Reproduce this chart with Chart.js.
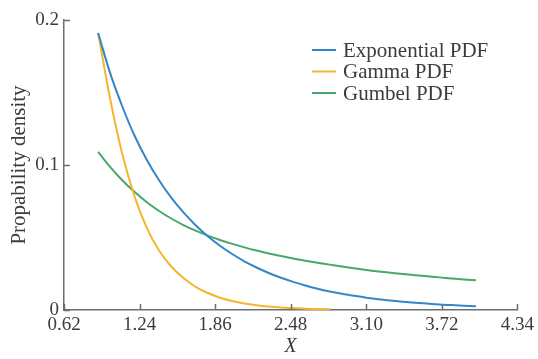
<!DOCTYPE html>
<html>
<head>
<meta charset="utf-8">
<script src="https://cdn.jsdelivr.net/npm/chart.js@4/dist/chart.umd.min.js"></script>
<style>
  html, body { margin: 0; padding: 0; background: #fff; }
  #wrap { width: 538px; height: 359px; }
</style>
</head>
<body>
<div id="wrap"><canvas id="pdfChart"></canvas></div>
<script>
// values
const xValues = [0.9, 1.0, 1.1, 1.2, 1.3, 1.4, 1.5, 1.6, 1.7, 1.8, 1.9, 2.0, 2.1, 2.2, 2.3, 2.4,
  2.5, 2.6, 2.7, 2.8, 2.9, 3.0, 3.1, 3.2, 3.3, 3.4, 3.5, 3.6, 3.7, 3.8, 3.9, 4.0];
const exponentialPdf = [0.191, 0.163, 0.140, 0.120, 0.1035, 0.0895, 0.0775, 0.0673, 0.0585,
  0.0509, 0.0443, 0.0386, 0.0336, 0.0293, 0.0255, 0.0222, 0.0194, 0.0169, 0.0147, 0.0128,
  0.0112, 0.0098, 0.0085, 0.0074, 0.0065, 0.0057, 0.0050, 0.0044, 0.0038, 0.0034, 0.0030, 0.0026];
const gammaPdf = [0.191, 0.145, 0.107, 0.078, 0.0565, 0.0410, 0.0300, 0.0220, 0.0160, 0.0117,
  0.0085, 0.0062, 0.0045, 0.0033, 0.0024, 0.0017, 0.0013, 0.0009, 0.0007, 0.0005];
const gumbelPdf = [0.109, 0.0985, 0.0893, 0.0813, 0.0743, 0.0683, 0.0631, 0.0586, 0.0547,
  0.0513, 0.0483, 0.0456, 0.0432, 0.0410, 0.0390, 0.0372, 0.0355, 0.0340, 0.0326, 0.0313,
  0.0300, 0.0288, 0.0276, 0.0266, 0.0257, 0.0248, 0.0240, 0.0232, 0.0225, 0.0218, 0.0211, 0.0205];
const xTicks = [0.62, 1.24, 1.86, 2.48, 3.10, 3.72, 4.34];
const yTicks = [0, 0.1, 0.2];
const seriesLabels = ["Exponential PDF", "Gamma PDF", "Gumbel PDF"];
const seriesColors = ["#3387c9", "#f3b62f", "#47a86c"];

const serif = "'Liberation Serif', 'Times New Roman', serif";
const axisColor = "#6e6e6e";
const textColor = "#3c3c3c";

function toPoints(values) {
  return values.map((v, i) => ({ x: xValues[i], y: v }));
}

// inward tick marks on both axes
const innerTicks = {
  id: "innerTicks",
  afterDraw(chart) {
    const ctx = chart.ctx;
    const xs = chart.scales.x;
    const ys = chart.scales.y;
    const area = chart.chartArea;
    ctx.save();
    ctx.strokeStyle = axisColor;
    ctx.lineWidth = 1.5;
    ctx.beginPath();
    xTicks.forEach((t) => {
      const px = Math.round(xs.getPixelForValue(t)) + 0.5;
      ctx.moveTo(px, area.bottom);
      ctx.lineTo(px, area.bottom - 6);
    });
    yTicks.forEach((t) => {
      const py = Math.round(ys.getPixelForValue(t)) + 0.5;
      ctx.moveTo(area.left, py);
      ctx.lineTo(area.left + 6, py);
    });
    ctx.stroke();
    ctx.restore();
  },
};

// legend drawn inside the plot, upper right
const innerLegend = {
  id: "innerLegend",
  afterDraw(chart) {
    const ctx = chart.ctx;
    ctx.save();
    ctx.font = "21px " + serif;
    ctx.textBaseline = "middle";
    chart.data.datasets.forEach((ds, i) => {
      const y = 50 + i * 21.5;
      ctx.strokeStyle = ds.borderColor;
      ctx.lineWidth = 2;
      ctx.beginPath();
      ctx.moveTo(312, y);
      ctx.lineTo(336, y);
      ctx.stroke();
      ctx.fillStyle = textColor;
      ctx.fillText(ds.label, 343, y + 1);
    });
    ctx.restore();
  },
};

function drawChart() {
  new Chart(document.getElementById("pdfChart"), {
    type: "line",
    data: {
      datasets: [
        { label: seriesLabels[0], data: toPoints(exponentialPdf), borderColor: seriesColors[0] },
        { label: seriesLabels[1], data: toPoints(gammaPdf), borderColor: seriesColors[1] },
        { label: seriesLabels[2], data: toPoints(gumbelPdf), borderColor: seriesColors[2] },
      ],
    },
    options: {
      responsive: true,
      maintainAspectRatio: false,
      animation: false,
      layout: { padding: { top: 20, right: 20, left: 0, bottom: 0 } },
      elements: {
        point: { radius: 0 },
        line: { borderWidth: 2, cubicInterpolationMode: "monotone", fill: false },
      },
      plugins: {
        legend: { display: false },
        tooltip: { enabled: false },
      },
      scales: {
        x: {
          type: "linear",
          min: 0.62,
          max: 4.34,
          afterBuildTicks: (scale) => {
            scale.ticks = xTicks.map((v) => ({ value: v }));
          },
          afterFit: (scale) => {
            scale.height = 49;
          },
          grid: { display: true, drawOnChartArea: false, drawTicks: false },
          border: { display: true, color: axisColor, width: 1.5 },
          ticks: {
            padding: 4,
            color: textColor,
            font: { family: serif, size: 19 },
            maxRotation: 0,
            autoSkip: false,
            callback: (v) => Number(v).toFixed(2),
          },
          title: {
            display: true,
            text: "X",
            color: textColor,
            padding: { top: 0, bottom: 0 },
            font: { family: serif, size: 20, style: "italic" },
          },
        },
        y: {
          min: 0,
          max: 0.2,
          afterBuildTicks: (scale) => {
            scale.ticks = yTicks.map((v) => ({ value: v }));
          },
          afterFit: (scale) => {
            scale.width = 64;
          },
          grid: { display: true, drawOnChartArea: false, drawTicks: false },
          border: { display: true, color: axisColor, width: 1.5 },
          ticks: {
            padding: 5,
            color: textColor,
            font: { family: serif, size: 19 },
            callback: (v) => (v === 0 ? "0" : Number(v).toFixed(1)),
          },
          title: {
            display: true,
            text: "Propability density",
            color: textColor,
            padding: { top: 7, bottom: 0 },
            font: { family: serif, size: 21 },
          },
        },
      },
    },
    plugins: [innerTicks, innerLegend],
  });
}

document.fonts.load("19px 'Liberation Serif'").then(drawChart, drawChart);
</script>
</body>
</html>
